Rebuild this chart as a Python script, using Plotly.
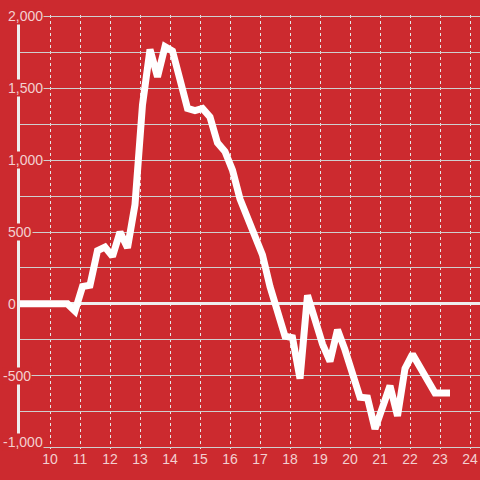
import plotly.graph_objects as go

# time of day (hours) for each sample
hours = [8.833, 9.083, 9.333, 9.583, 9.833, 10.083, 10.333, 10.583, 10.833,
         11.083, 11.333, 11.583, 11.833, 12.083, 12.333, 12.583, 12.833,
         13.083, 13.333, 13.583, 13.833, 14.083, 14.333, 14.583, 14.833,
         15.083, 15.333, 15.583, 15.833, 16.083, 16.333, 16.583, 16.833,
         17.083, 17.333, 17.583, 17.833, 18.083, 18.333, 18.583, 18.833,
         19.083, 19.333, 19.583, 19.833, 20.083, 20.333, 20.583, 20.833,
         21.083, 21.333, 21.583, 21.833, 22.083, 22.333, 22.583, 22.833,
         23.083, 23.333]

values = [0, 0, 0, 0, 0, 0, 0, 0, -50,
          120, 130, 370, 395, 330, 500, 390, 690,
          1385, 1770, 1580, 1790, 1760, 1560, 1360, 1345,
          1360, 1300, 1120, 1060, 930, 730, 605, 490,
          340, 120, -70, -225, -235, -520, 60, -120,
          -280, -400, -180, -320, -500, -650, -655, -870,
          -720, -570, -780, -450, -350, -440, -530, -620,
          -620, -620]

x_tick_vals = [10, 11, 12, 13, 14, 15, 16, 17, 18, 19, 20, 21, 22, 23, 24]
x_tick_text = ["10", "11", "12", "13", "14", "15", "16", "17", "18", "19",
               "20", "21", "22", "23", "24"]
y_tick_vals = [2000, 1500, 1000, 500, 0, -500, -1000]
y_tick_text = ["2,000", "1,500", "1,000", "500", "0", "-500", "-1,000"]

BG = "#cc2a2f"
TXT = "#f3d0d0"
FONT = "Liberation Sans, Arial, sans-serif"

L, R, T, B = 20, 0, 15, 31
W = 480 - L - R

fig = go.Figure()
fig.add_trace(go.Scatter(x=hours, y=values, mode="lines",
                         line=dict(color="#ffffff", width=7),
                         hoverinfo="skip", showlegend=False))

annotations = []
for v, t in zip(y_tick_vals, y_tick_text):
    annotations.append(dict(
        x=(7 - L) / W, xref="paper", y=v, yref="y",
        text=t, showarrow=False, xanchor="left", yanchor="middle",
        xshift=-5 if v < 0 else 0, yshift=6 if v == min(y_tick_vals) else 0,
        font=dict(family=FONT, size=14, color=TXT),
        bgcolor=BG, borderpad=0))

fig.update_layout(
    width=480, height=480,
    margin=dict(l=L, r=R, t=T, b=B, autoexpand=False),
    paper_bgcolor=BG, plot_bgcolor=BG,
    font=dict(family=FONT, size=14, color=TXT),
    showlegend=False,
    annotations=annotations,
    xaxis=dict(range=[9, 24.333], tickmode="array", tickvals=x_tick_vals,
               ticktext=x_tick_text, showgrid=True, gridcolor="#e6e6e6",
               griddash="dot", gridwidth=1, zeroline=False, showline=False,
               automargin=False,
               ticks="", tickfont=dict(family=FONT, size=14, color=TXT)),
    yaxis=dict(range=[-1010, 2010], dtick=250, tick0=0, showgrid=True,
               gridcolor="#cfcfcf", gridwidth=1, showticklabels=False,
               automargin=False,
               ticks="", zeroline=True, zerolinecolor="#eeeeee",
               zerolinewidth=3, showline=True, linecolor="#eeeeee",
               linewidth=3),
)

fig.write_html("out.html",
               config={"displayModeBar": False},
               post_script="document.body.style.margin='0';"
                           "document.body.style.background='" + BG + "';")
